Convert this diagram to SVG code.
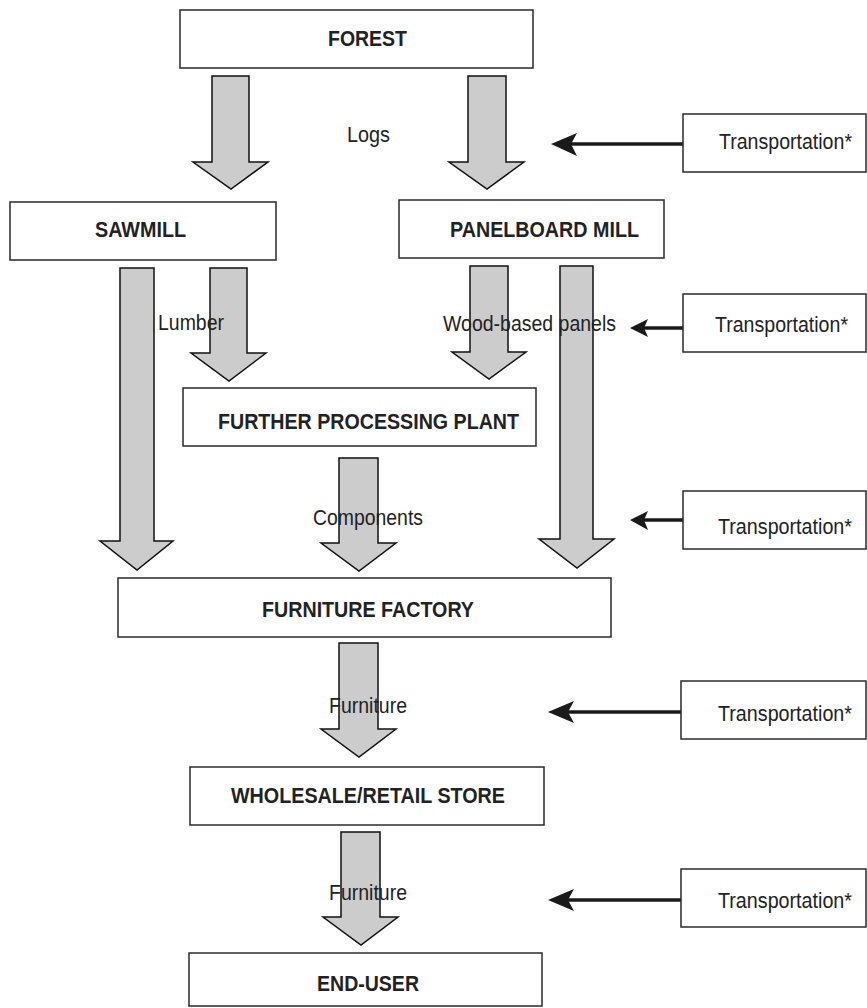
<svg xmlns="http://www.w3.org/2000/svg" width="867" height="1008" viewBox="0 0 867 1008">
<style>
.box{fill:#fff;stroke:#2a2a2a;stroke-width:1.5}
.blk{fill:#cccccc;stroke:#111;stroke-width:1.5;stroke-linejoin:miter}
.b{font-family:"Liberation Sans Narrow","Liberation Sans",Arial,sans-serif;font-weight:bold;font-size:22px;fill:#222}
.r{font-family:"Liberation Sans Narrow","Liberation Sans",Arial,sans-serif;font-size:22px;fill:#222}
.tl{stroke:#1a1a1a;stroke-width:3.5;fill:none}
.th{fill:#1a1a1a;stroke:none}
</style>
<rect width="867" height="1008" fill="#fff"/>
<g id="connectors">
<path class="blk" d="M212,76 H249 V162 H268 L231,189 L193,162 H212 Z"/>
<path class="blk" d="M468,76 H506 V162 H524 L487,189 L449,162 H468 Z"/>
<path class="blk" d="M120,268 H154 V541 H173 L137,570 L100,541 H120 Z"/>
<path class="blk" d="M210,268 H247 V353 H266 L229,381 L191,353 H210 Z"/>
<path class="blk" d="M470,266 H508 V352 H526 L489,379 L452,352 H470 Z"/>
<path class="blk" d="M560,266 H593 V539 H614 L577,568 L539,539 H560 Z"/>
<path class="blk" d="M339,458 H378 V543 H396 L359,571 L321,543 H339 Z"/>
<path class="blk" d="M339,643 H378 V729 H396 L359,757 L321,729 H339 Z"/>
<path class="blk" d="M341,832 H380 V917 H398 L361,945 L323,917 H341 Z"/>
<line class="tl" x1="570" y1="144" x2="683" y2="144"/>
<path class="th" d="M551,144 L577,133 L571,144 L577,156 Z"/>
<line class="tl" x1="643" y1="328" x2="683" y2="328"/>
<path class="th" d="M630,328 L648,319 L644,328 L648,337 Z"/>
<line class="tl" x1="643" y1="520" x2="683" y2="520"/>
<path class="th" d="M630,520 L648,511 L644,520 L648,530 Z"/>
<line class="tl" x1="568" y1="712" x2="681" y2="712"/>
<path class="th" d="M548,712 L574,701 L568,712 L574,723 Z"/>
<line class="tl" x1="568" y1="900" x2="681" y2="900"/>
<path class="th" d="M548,900 L574,889 L568,900 L574,911 Z"/>
<text class="r" x="347" y="142" textLength="43" lengthAdjust="spacingAndGlyphs">Logs</text>
<text class="r" x="158" y="330" textLength="66" lengthAdjust="spacingAndGlyphs">Lumber</text>
<text class="r" x="443" y="331" textLength="173" lengthAdjust="spacingAndGlyphs">Wood-based panels</text>
<text class="r" x="313" y="525" textLength="110" lengthAdjust="spacingAndGlyphs">Components</text>
<text class="r" x="329" y="713" textLength="78" lengthAdjust="spacingAndGlyphs">Furniture</text>
<text class="r" x="329" y="900" textLength="78" lengthAdjust="spacingAndGlyphs">Furniture</text>
</g>
<g id="forest"><rect class="box" x="180" y="10" width="353" height="58"/><text class="b" x="328" y="46" textLength="79" lengthAdjust="spacingAndGlyphs">FOREST</text></g>
<g id="sawmill"><rect class="box" x="10" y="202" width="266" height="58"/><text class="b" x="95" y="237" textLength="91" lengthAdjust="spacingAndGlyphs">SAWMILL</text></g>
<g id="panelboard"><rect class="box" x="399" y="200" width="265" height="58"/><text class="b" x="450" y="237" textLength="189" lengthAdjust="spacingAndGlyphs">PANELBOARD MILL</text></g>
<g id="further"><rect class="box" x="183" y="388" width="353" height="58"/><text class="b" x="218" y="429" textLength="301" lengthAdjust="spacingAndGlyphs">FURTHER PROCESSING PLANT</text></g>
<g id="factory"><rect class="box" x="118" y="578" width="493" height="59"/><text class="b" x="262" y="617" textLength="212" lengthAdjust="spacingAndGlyphs">FURNITURE FACTORY</text></g>
<g id="store"><rect class="box" x="190" y="767" width="354" height="58"/><text class="b" x="231" y="803" textLength="274" lengthAdjust="spacingAndGlyphs">WHOLESALE/RETAIL STORE</text></g>
<g id="enduser"><rect class="box" x="189" y="953" width="353" height="53"/><text class="b" x="317" y="991" textLength="102" lengthAdjust="spacingAndGlyphs">END-USER</text></g>
<g id="transport1"><rect class="box" x="683" y="114" width="183" height="58"/><text class="r" x="719" y="149" textLength="133" lengthAdjust="spacingAndGlyphs">Transportation*</text></g>
<g id="transport2"><rect class="box" x="683" y="294" width="183" height="58"/><text class="r" x="715" y="332" textLength="133" lengthAdjust="spacingAndGlyphs">Transportation*</text></g>
<g id="transport3"><rect class="box" x="683" y="491" width="183" height="58"/><text class="r" x="718" y="534" textLength="134" lengthAdjust="spacingAndGlyphs">Transportation*</text></g>
<g id="transport4"><rect class="box" x="681" y="681" width="185" height="58"/><text class="r" x="718" y="721" textLength="134" lengthAdjust="spacingAndGlyphs">Transportation*</text></g>
<g id="transport5"><rect class="box" x="681" y="869" width="185" height="58"/><text class="r" x="718" y="908" textLength="134" lengthAdjust="spacingAndGlyphs">Transportation*</text></g>
</svg>
